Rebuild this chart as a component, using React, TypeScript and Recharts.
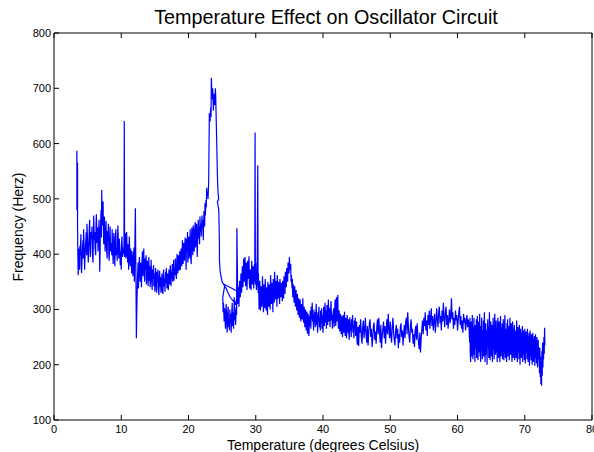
import React from 'react';
import { LineChart, Line, XAxis, YAxis } from 'recharts';

// [temperature °C, frequency Hz] readings, in the order they were logged
const warmUp: [number, number][] = [
  [3.4, 480], [3.4, 587], [3.45, 530], [3.5, 565], [3.5, 455], [3.55, 395], [3.6, 362], [3.65, 410], [3.7, 388], [3.8, 372],
  [3.85, 415], [3.9, 398], [4.0, 436], [4.05, 380], [4.1, 366], [4.2, 402], [4.3, 425], [4.35, 392], [4.4, 445], [4.5, 410],
  [4.55, 372], [4.6, 390], [4.7, 418], [4.8, 440], [4.85, 398], [4.9, 455], [5.0, 420], [5.05, 401], [5.1, 385], [5.2, 430],
  [5.3, 462], [5.35, 418], [5.4, 395], [5.5, 440], [5.6, 428], [5.65, 450], [5.7, 402], [5.8, 385], [5.85, 432], [5.9, 470],
  [6.0, 425], [6.05, 440], [6.1, 412], [6.2, 398], [6.25, 455], [6.3, 472], [6.4, 420], [6.5, 448], [6.55, 405], [6.6, 430],
  [6.7, 462], [6.75, 418], [6.8, 368], [6.85, 400], [6.9, 445], [7.0, 480], [7.05, 430], [7.1, 516], [7.15, 470], [7.2, 452],
  [7.3, 495], [7.35, 440], [7.4, 418], [7.5, 468], [7.55, 445], [7.6, 405], [7.7, 435], [7.75, 460], [7.8, 412], [7.9, 392],
  [7.95, 442], [8.0, 425], [8.1, 455], [8.15, 400], [8.2, 388], [8.3, 430], [8.35, 450], [8.4, 405], [8.5, 420], [8.6, 398],
  [8.65, 445], [8.7, 415], [8.8, 382], [8.85, 410], [8.9, 438], [9.0, 400], [9.05, 378], [9.1, 425], [9.2, 445], [9.25, 398],
  [9.3, 412], [9.4, 388], [9.45, 430], [9.5, 452], [9.6, 405], [9.65, 392], [9.7, 428], [9.8, 410], [9.85, 380], [9.9, 405],
  [10.0, 372], [10.05, 418], [10.1, 432], [10.2, 395], [10.3, 412], [10.4, 400], [10.45, 641], [10.5, 395], [10.55, 420],
  [10.6, 438], [10.7, 392], [10.75, 410], [10.8, 440], [10.9, 398], [10.95, 385], [11.0, 418], [11.1, 372], [11.15, 402],
  [11.2, 432], [11.3, 388], [11.35, 378], [11.4, 410], [11.5, 392], [11.55, 365], [11.6, 405], [11.7, 380], [11.75, 360],
  [11.8, 395], [11.9, 412], [11.95, 350], [12.0, 398], [12.1, 483], [12.15, 405], [12.2, 330], [12.25, 248], [12.3, 290],
  [12.35, 320], [12.4, 352], [12.5, 385], [12.55, 338], [12.6, 362],
];

const slowDip: [number, number][] = [
  [12.7, 395], [12.75, 368], [12.8, 350], [12.9, 385], [12.95, 372], [13.0, 340], [13.1, 392], [13.15, 405], [13.2, 360],
  [13.3, 378], [13.35, 410], [13.4, 365], [13.5, 350], [13.55, 392], [13.6, 372], [13.7, 398], [13.75, 345], [13.8, 360],
  [13.9, 388], [14.0, 342], [14.05, 368], [14.1, 395], [14.2, 352], [14.25, 378], [14.3, 340], [14.4, 362], [14.45, 390],
  [14.5, 358], [14.6, 335], [14.65, 372], [14.7, 355], [14.8, 380], [14.85, 342], [14.9, 365], [15.0, 332], [15.05, 352],
  [15.1, 375], [15.2, 345], [15.25, 330], [15.3, 368], [15.4, 350], [15.45, 372], [15.5, 338], [15.6, 326], [15.65, 355],
  [15.7, 370], [15.8, 340], [15.85, 358], [15.9, 330], [16.0, 348], [16.05, 365], [16.1, 335], [16.2, 328], [16.25, 360],
  [16.3, 372], [16.4, 342], [16.45, 355], [16.5, 332], [16.6, 368], [16.65, 348], [16.7, 375], [16.8, 338], [16.85, 352],
  [16.9, 365], [17.0, 335], [17.05, 358], [17.1, 372], [17.2, 345], [17.25, 362], [17.3, 380], [17.4, 342], [17.45, 368],
  [17.5, 355], [17.6, 382], [17.65, 350], [17.7, 372], [17.8, 390], [17.85, 352], [17.9, 375], [18.0, 362], [18.05, 392],
  [18.1, 368], [18.2, 355], [18.25, 385], [18.3, 400], [18.4, 365], [18.45, 378], [18.5, 398], [18.6, 370], [18.65, 388],
  [18.7, 405], [18.8, 372], [18.85, 395], [18.9, 410], [19.0, 378], [19.05, 398], [19.1, 425], [19.2, 382], [19.25, 402],
  [19.3, 420], [19.4, 388], [19.45, 412], [19.5, 430],
];

const riseToPeak: [number, number][] = [
  [19.6, 395], [19.65, 372], [19.7, 428], [19.8, 405], [19.85, 440], [19.9, 385], [20.0, 415], [20.05, 432], [20.1, 392],
  [20.2, 420], [20.25, 445], [20.3, 400], [20.4, 382], [20.45, 430], [20.5, 448], [20.6, 410], [20.65, 398], [20.7, 452],
  [20.8, 425], [20.85, 405], [20.9, 440], [21.0, 458], [21.05, 412], [21.1, 430], [21.2, 455], [21.25, 420], [21.3, 395],
  [21.4, 445], [21.45, 462], [21.5, 428], [21.6, 450], [21.65, 418], [21.7, 468], [21.8, 440], [21.85, 455], [21.9, 432],
  [22.0, 470], [22.05, 448], [22.1, 462], [22.2, 425], [22.25, 455], [22.3, 478], [22.4, 450], [22.45, 492], [22.5, 470],
  [22.6, 498], [22.65, 485], [22.7, 520], [22.8, 505], [22.85, 512], [22.9, 500], [23.0, 530], [23.1, 655], [23.2, 640],
  [23.3, 665], [23.35, 648], [23.4, 719], [23.5, 680], [23.6, 700], [23.7, 660], [23.8, 690], [23.9, 670], [24.0, 700],
  [24.05, 685], [24.1, 655], [24.2, 600], [24.3, 540], [24.4, 510], [24.5, 500], [24.3, 495], [24.5, 480], [24.6, 420],
  [24.6, 390], [24.7, 370], [24.8, 362],
];

const crash: [number, number][] = [
  [25.0, 350], [25.5, 340], [26.2, 322], [27.0, 310], [27.6, 345], [27.4, 332], [26.5, 338], [25.4, 345], [25.1, 322],
  [25.15, 295], [25.2, 312], [25.3, 278], [25.35, 302], [25.4, 288], [25.5, 265], [25.55, 298], [25.6, 310], [25.7, 272],
  [25.75, 258], [25.8, 290], [25.9, 305], [25.95, 268], [26.0, 282], [26.1, 262], [26.15, 300], [26.2, 275], [26.3, 292],
  [26.35, 258], [26.4, 285], [26.5, 312], [26.55, 270], [26.6, 295], [26.7, 265], [26.75, 288], [26.8, 322], [26.9, 280],
  [26.95, 300], [27.0, 272], [27.1, 305], [27.15, 290], [27.2, 447], [27.25, 392], [27.3, 340], [27.35, 310], [27.45, 332],
  [27.5, 305], [27.6, 352], [27.7, 322], [27.75, 340], [27.8, 365], [27.9, 330], [28.0, 378], [28.05, 352], [28.1, 340],
  [28.2, 392], [28.25, 365], [28.3, 350], [28.4, 395], [28.45, 372], [28.5, 342], [28.6, 385], [28.65, 360], [28.7, 335],
  [28.8, 388], [28.85, 355], [28.9, 372], [29.0, 396], [29.05, 348], [29.1, 338], [29.2, 372], [29.25, 355], [29.3, 335],
  [29.4, 388], [29.45, 362], [29.5, 345], [29.6, 378], [29.65, 352], [29.7, 338], [29.8, 382], [29.85, 350], [29.9, 620],
  [29.95, 345], [30.0, 385], [30.1, 335], [30.2, 352], [30.3, 561], [30.35, 330], [30.4, 365],
];

const plateau: [number, number][] = [
  [30.5, 300], [30.55, 335], [30.6, 352], [30.7, 298], [30.75, 318], [30.8, 342], [30.9, 305], [30.95, 328], [31.0, 360],
  [31.1, 312], [31.15, 295], [31.2, 345], [31.3, 322], [31.35, 302], [31.4, 355], [31.5, 330], [31.55, 298], [31.6, 340],
  [31.7, 315], [31.75, 290], [31.8, 350], [31.9, 325], [31.95, 305], [32.0, 345], [32.1, 318], [32.15, 300], [32.2, 362],
  [32.3, 335], [32.35, 310], [32.4, 348], [32.5, 322], [32.55, 295], [32.6, 355], [32.7, 330], [32.75, 312], [32.8, 368],
  [32.9, 338], [32.95, 318], [33.0, 352], [33.1, 328], [33.15, 305], [33.2, 362], [33.3, 340], [33.35, 320], [33.4, 350],
  [33.5, 328], [33.55, 310], [33.6, 355], [33.7, 335], [33.75, 322], [33.8, 348], [33.9, 330], [33.95, 315], [34.0, 352],
  [34.1, 338], [34.15, 320], [34.2, 360], [34.3, 345], [34.35, 328], [34.4, 368], [34.5, 352], [34.55, 340], [34.6, 375],
  [34.7, 362], [34.75, 350], [34.8, 385], [34.9, 372], [34.95, 365], [35.0, 395], [35.1, 372],
];

const decline: [number, number][] = [
  [35.2, 382], [35.25, 350], [35.3, 362], [35.4, 338], [35.45, 355], [35.5, 322], [35.6, 345], [35.65, 330], [35.7, 312],
  [35.8, 342], [35.85, 320], [35.9, 305], [36.0, 335], [36.05, 312], [36.1, 298], [36.2, 328], [36.25, 305], [36.3, 290],
  [36.4, 320], [36.45, 300], [36.5, 285], [36.6, 318], [36.65, 295], [36.7, 278], [36.8, 310], [36.85, 290], [36.9, 282],
  [37.0, 320], [37.05, 295], [37.1, 276], [37.2, 305], [37.25, 285], [37.3, 268], [37.4, 300], [37.45, 282], [37.5, 262],
  [37.6, 296], [37.65, 275], [37.7, 256], [37.8, 292], [37.85, 268], [37.9, 252], [38.0, 288], [38.05, 270], [38.1, 298],
  [38.2, 265], [38.25, 305], [38.3, 282], [38.4, 312], [38.45, 278], [38.5, 290], [38.6, 262], [38.65, 300], [38.7, 275],
  [38.8, 295], [38.85, 268], [38.9, 282], [39.0, 310], [39.05, 272], [39.1, 290], [39.2, 258], [39.25, 295], [39.3, 278],
  [39.4, 305], [39.45, 268], [39.5, 285], [39.6, 262], [39.65, 298], [39.7, 275], [39.8, 302], [39.85, 265], [39.9, 290],
  [40.0, 258], [40.05, 282], [40.1, 305], [40.2, 270], [40.25, 295], [40.3, 312], [40.4, 276], [40.45, 298], [40.5, 265],
  [40.6, 308], [40.65, 285], [40.7, 272], [40.8, 318], [40.85, 290], [40.9, 278], [41.0, 302], [41.05, 268], [41.1, 295],
  [41.2, 315], [41.25, 280], [41.3, 298], [41.4, 265], [41.45, 290], [41.5, 275], [41.6, 302], [41.65, 268], [41.7, 285],
  [41.8, 318], [41.85, 282], [41.9, 270], [42.0, 322], [42.05, 290], [42.1, 278], [42.2, 326], [42.25, 285], [42.3, 265],
  [42.4, 298], [42.45, 275], [42.5, 260], [42.6, 292], [42.65, 270], [42.7, 255], [42.8, 288], [42.85, 265], [42.9, 250],
  [43.0, 290], [43.05, 272], [43.1, 258], [43.2, 296], [43.25, 268], [43.3, 252], [43.4, 285], [43.45, 262], [43.5, 248],
  [43.6, 290], [43.65, 270], [43.7, 258], [43.8, 282], [43.85, 255], [43.9, 245], [44.0, 286], [44.05, 262], [44.1, 275],
  [44.2, 250], [44.25, 282], [44.3, 265], [44.4, 290], [44.45, 258], [44.5, 272], [44.6, 248], [44.65, 280], [44.7, 262],
  [44.8, 285], [44.85, 252], [44.9, 268], [45.0, 278], [45.05, 245], [45.1, 236], [45.2, 268],
];

const steady: [number, number][] = [
  [45.3, 234], [45.4, 272], [45.5, 258], [45.6, 282], [45.7, 250], [45.8, 238], [45.9, 268], [46.0, 280], [46.1, 248],
  [46.2, 262], [46.3, 285], [46.4, 255], [46.5, 240], [46.6, 270], [46.7, 235], [46.8, 258], [46.9, 275], [47.0, 282],
  [47.1, 250], [47.2, 265], [47.3, 232], [47.4, 248], [47.5, 270], [47.6, 276], [47.7, 245], [47.8, 260], [47.9, 238],
  [48.0, 268], [48.1, 282], [48.2, 255], [48.3, 285], [48.4, 262], [48.5, 240], [48.6, 272], [48.7, 230], [48.8, 252],
  [48.9, 265], [49.0, 278], [49.1, 248], [49.2, 270], [49.3, 238], [49.4, 262], [49.5, 282], [49.6, 255], [49.7, 292],
  [49.8, 265], [49.9, 248], [50.0, 278], [50.1, 252], [50.2, 240], [50.3, 270], [50.4, 285], [50.5, 258], [50.6, 245],
  [50.7, 235], [50.8, 262], [50.9, 272], [51.0, 248], [51.1, 265], [51.2, 230], [51.3, 255], [51.4, 240], [51.5, 268],
  [51.6, 275], [51.7, 250], [51.8, 262], [51.9, 235], [52.0, 258], [52.1, 272], [52.2, 248], [52.3, 278], [52.4, 285],
  [52.5, 255], [52.6, 295], [52.7, 268], [52.8, 250], [52.9, 240], [53.0, 270], [53.1, 282], [53.2, 258], [53.3, 265],
  [53.4, 238], [53.5, 255], [53.6, 232], [53.7, 262], [53.8, 270], [53.9, 245], [54.0, 275], [54.1, 252], [54.2, 240],
  [54.3, 228], [54.4, 258], [54.5, 222], [54.6, 248], [54.7, 265], [54.8, 280], [54.9, 255], [55.0, 285], [55.1, 270],
  [55.2, 295], [55.3, 262], [55.4, 280], [55.5, 252], [55.6, 290], [55.7, 272], [55.8, 298], [55.9, 265], [56.0, 285],
  [56.1, 302], [56.2, 270], [56.3, 288], [56.4, 262], [56.5, 280], [56.6, 292], [56.7, 258], [56.8, 275], [56.9, 302],
  [57.0, 282], [57.1, 268], [57.2, 295], [57.3, 305], [57.4, 275], [57.5, 288], [57.6, 262], [57.7, 298], [57.8, 278],
  [57.9, 312], [58.0, 285], [58.1, 268], [58.2, 295], [58.3, 305], [58.4, 272], [58.5, 290], [58.6, 265], [58.7, 282],
  [58.8, 300], [58.9, 275], [59.0, 288], [59.1, 320], [59.2, 282], [59.3, 295], [59.4, 265], [59.5, 285], [59.6, 272],
  [59.7, 298], [59.8, 280], [59.9, 290], [60.0, 262], [60.1, 278], [60.2, 295], [60.3, 305], [60.4, 272], [60.5, 288],
  [60.6, 265], [60.7, 280], [60.8, 258], [60.9, 292], [61.0, 275], [61.1, 285], [61.2, 262], [61.3, 278], [61.4, 290],
  [61.5, 268], [61.6, 282], [61.7, 272],
];

const hotEnd: [number, number][] = [
  [61.8, 240], [61.85, 285], [61.9, 222], [61.95, 205], [62.0, 262], [62.05, 278], [62.1, 215], [62.15, 245], [62.2, 290],
  [62.25, 230], [62.3, 210], [62.35, 268], [62.4, 252], [62.45, 285], [62.5, 218], [62.55, 238], [62.6, 205], [62.65, 272],
  [62.7, 260], [62.75, 228], [62.8, 282], [62.85, 212], [62.9, 248], [62.95, 288], [63.0, 235], [63.05, 208], [63.1, 265],
  [63.15, 278], [63.2, 222], [63.25, 255], [63.3, 292], [63.35, 215], [63.4, 242], [63.45, 205], [63.5, 270], [63.55, 258],
  [63.6, 285], [63.65, 225], [63.7, 210], [63.75, 262], [63.8, 238], [63.85, 280], [63.9, 215], [63.95, 268], [64.0, 295],
  [64.05, 228], [64.1, 205], [64.15, 250], [64.2, 275], [64.25, 218], [64.3, 262], [64.35, 240], [64.4, 200], [64.45, 258],
  [64.5, 282], [64.55, 232], [64.6, 268], [64.65, 212], [64.7, 248], [64.75, 295], [64.8, 225], [64.85, 208], [64.9, 265],
  [64.95, 278], [65.0, 238], [65.05, 215], [65.1, 272], [65.15, 252], [65.2, 205], [65.25, 245], [65.3, 285], [65.35, 228],
  [65.4, 262], [65.45, 210], [65.5, 275], [65.55, 292], [65.6, 232], [65.65, 218], [65.7, 258], [65.75, 280], [65.8, 222],
  [65.85, 248], [65.9, 205], [65.95, 268], [66.0, 285], [66.05, 235], [66.1, 212], [66.15, 262], [66.2, 278], [66.25, 225],
  [66.3, 205], [66.35, 255], [66.4, 288], [66.45, 240], [66.5, 215], [66.55, 268], [66.6, 250], [66.65, 275], [66.7, 210],
  [66.75, 232], [66.8, 282], [66.85, 258], [66.9, 208], [66.95, 245], [67.0, 272], [67.05, 290], [67.1, 222], [67.15, 212],
  [67.2, 265], [67.25, 248], [67.3, 205], [67.35, 275], [67.4, 238], [67.45, 282], [67.5, 215], [67.55, 258], [67.6, 228],
  [67.65, 270], [67.7, 208], [67.75, 252], [67.8, 285], [67.85, 235], [67.9, 218], [67.95, 262], [68.0, 275], [68.05, 225],
  [68.1, 205], [68.15, 255], [68.2, 278], [68.25, 242], [68.3, 212], [68.35, 265], [68.4, 230], [68.45, 272], [68.5, 208],
  [68.55, 250], [68.6, 228], [68.65, 262], [68.7, 212], [68.75, 245], [68.8, 280], [68.85, 232], [68.9, 205], [68.95, 258],
  [69.0, 268], [69.05, 222], [69.1, 248], [69.15, 210], [69.2, 272], [69.25, 238], [69.3, 200], [69.35, 255], [69.4, 265],
  [69.45, 225], [69.5, 212], [69.55, 258], [69.6, 242], [69.65, 270], [69.7, 205], [69.75, 232], [69.8, 262], [69.85, 218],
  [69.9, 250], [69.95, 208], [70.0, 265], [70.05, 238], [70.1, 202], [70.15, 248], [70.2, 260], [70.25, 222], [70.3, 245],
  [70.35, 210], [70.4, 265], [70.45, 230], [70.5, 205], [70.55, 252], [70.6, 238], [70.65, 258], [70.7, 198], [70.75, 228],
  [70.8, 262], [70.85, 215], [70.9, 245], [70.95, 208], [71.0, 255], [71.05, 232], [71.1, 200], [71.15, 242], [71.2, 258],
  [71.25, 218], [71.3, 205], [71.35, 248], [71.4, 235], [71.45, 252], [71.5, 198], [71.55, 225], [71.6, 255], [71.65, 212],
  [71.7, 240], [71.75, 202], [71.8, 250], [71.85, 228], [71.9, 195], [71.95, 238], [72.0, 245], [72.05, 210], [72.1, 232],
  [72.15, 200], [72.2, 185], [72.25, 230], [72.3, 178], [72.35, 215], [72.4, 165], [72.45, 205], [72.5, 162], [72.55, 225],
  [72.6, 180], [72.65, 240], [72.7, 195], [72.75, 230], [72.8, 210], [72.85, 250], [72.9, 220], [72.95, 267], [73.0, 235],
];

const xTicks = [0, 10, 20, 30, 40, 50, 60, 70, 80];
const yTicks = [100, 200, 300, 400, 500, 600, 700, 800];

const readings = [...warmUp, ...slowDip, ...riseToPeak, ...crash, ...plateau, ...decline, ...steady, ...hotEnd].map(
  ([t, f]) => ({ t, f })
);

const font = '"Liberation Sans", Arial, Helvetica, sans-serif';
const TICK_LEN = 5;

function BottomTick({ x, y, payload }: any) {
  return (
    <g>
      <line x1={x} y1={y} x2={x} y2={y - TICK_LEN} stroke="#000" />
      <text x={x} y={y + 13} textAnchor="middle" fontSize={11} fontFamily={font} fill="#000">
        {payload.value}
      </text>
    </g>
  );
}

function TopTick({ x, y }: any) {
  return <line x1={x} y1={y} x2={x} y2={y + TICK_LEN} stroke="#000" />;
}

function LeftTick({ x, y, payload }: any) {
  return (
    <g>
      <line x1={x} y1={y} x2={x + TICK_LEN} y2={y} stroke="#000" />
      <text x={x - 3} y={y + 4} textAnchor="end" fontSize={11} fontFamily={font} fill="#000">
        {payload.value}
      </text>
    </g>
  );
}

function RightTick({ x, y }: any) {
  return <line x1={x} y1={y} x2={x - TICK_LEN} y2={y} stroke="#000" />;
}

export default function App() {
  return (
    <div style={{ position: 'absolute', left: 0, top: 0, width: 594, height: 452, background: '#fff', fontFamily: font }}>
      <div
        style={{
          position: 'absolute',
          left: 26,
          width: 600,
          top: 6,
          textAlign: 'center',
          fontSize: 19.8,
          lineHeight: '22px',
          color: '#000',
          whiteSpace: 'nowrap',
        }}
      >
        Temperature Effect on Oscillator Circuit
      </div>
      <div
        style={{
          position: 'absolute',
          left: -82,
          top: 218,
          width: 200,
          height: 18,
          lineHeight: '18px',
          textAlign: 'center',
          fontSize: 14,
          color: '#000',
          transform: 'rotate(-90deg)',
        }}
      >
        Frequency (Herz)
      </div>
      <LineChart width={594} height={452} data={readings} margin={{ top: 32, right: 1, bottom: 0, left: 0 }}>
        <XAxis
          dataKey="t"
          type="number"
          domain={[0, 80]}
          ticks={xTicks}
          height={32}
          tickSize={0}
          tickMargin={0}
          tickLine={false}
          tick={<BottomTick />}
          axisLine={{ stroke: '#000' }}
          interval={0}
          label={{
            value: 'Temperature (degrees Celsius)',
            position: 'insideBottom',
            offset: 2,
            style: { fontSize: 14, fontFamily: font, fill: '#000' },
          }}
        />
        <XAxis
          xAxisId="top"
          orientation="top"
          dataKey="t"
          type="number"
          domain={[0, 80]}
          ticks={xTicks}
          height={1}
          tickSize={0}
          tickMargin={0}
          tickLine={false}
          tick={<TopTick />}
          axisLine={{ stroke: '#000' }}
          interval={0}
        />
        <YAxis
          type="number"
          domain={[100, 800]}
          ticks={yTicks}
          width={54}
          tickSize={0}
          tickMargin={0}
          tickLine={false}
          tick={<LeftTick />}
          axisLine={{ stroke: '#000' }}
          interval={0}
        />
        <YAxis
          yAxisId="right"
          orientation="right"
          type="number"
          domain={[100, 800]}
          ticks={yTicks}
          width={1}
          tickSize={0}
          tickMargin={0}
          tickLine={false}
          tick={<RightTick />}
          axisLine={{ stroke: '#000' }}
          interval={0}
        />
        <Line
          type="linear"
          dataKey="f"
          stroke="#0000ff"
          strokeWidth={1.2}
          dot={false}
          isAnimationActive={false}
        />
      </LineChart>
    </div>
  );
}
